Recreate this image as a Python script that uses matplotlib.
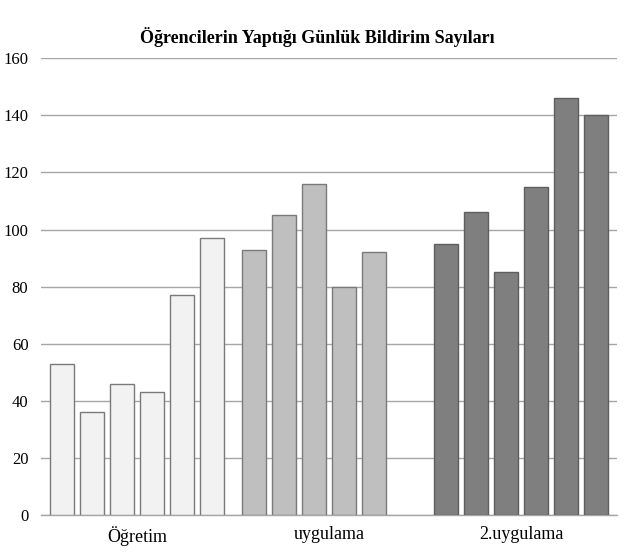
import numpy as np
import matplotlib.pyplot as plt

plt.rcParams['font.family'] = ['Liberation Serif', 'DejaVu Serif']

# --- data ---
categories = ["Öğretim", "uygulama", "2.uygulama"]
ogretim = [53, 36, 46, 43, 77, 97]
uygulama = [93, 105, 116, 80, 92, np.nan]
uygulama2 = [95, 106, 85, 115, 146, 140]
group_values = [ogretim, uygulama, uygulama2]
group_colors = ["#f2f2f2", "#bfbfbf", "#7f7f7f"]
edge_colors = ["#7a7a7a", "#7a7a7a", "#5e5e5e"]

fig = plt.figure(figsize=(6.35, 5.53), dpi=100)
ax = fig.add_axes([41/635, 1 - 515/553, 576/635, (515 - 58.3)/553])

n = 6
slot = 30 / 192
width = 24 / 192
for i, vals in enumerate(group_values):
    x = i + (np.arange(n) - (n - 1) / 2) * slot
    ax.bar(x, vals, width=width, color=group_colors[i],
           edgecolor=edge_colors[i], linewidth=1.0, zorder=3)

ax.set_xlim(-0.5, 2.5)
ax.set_ylim(0, 160)
ax.set_yticks(range(0, 161, 20))
ax.yaxis.grid(True, color="#a6a6a6", linewidth=1.0, zorder=0)
ax.set_axisbelow(True)
for s in ["left", "right", "top"]:
    ax.spines[s].set_visible(False)
ax.spines["bottom"].set_color("#a6a6a6")
ax.spines["bottom"].set_linewidth(1.0)
ax.tick_params(axis="y", length=0, pad=9, labelsize=12)
ax.tick_params(axis="x", length=0, pad=8, labelsize=13)
ax.set_xticks(range(3))
ax.set_xticklabels(categories)

fig.text(0.5, 1 - 37/553, "Öğrencilerin Yaptığı Günlük Bildirim Sayıları",
         ha="center", va="center", fontsize=13, fontweight="bold")

fig.savefig("out.png", dpi=100)
